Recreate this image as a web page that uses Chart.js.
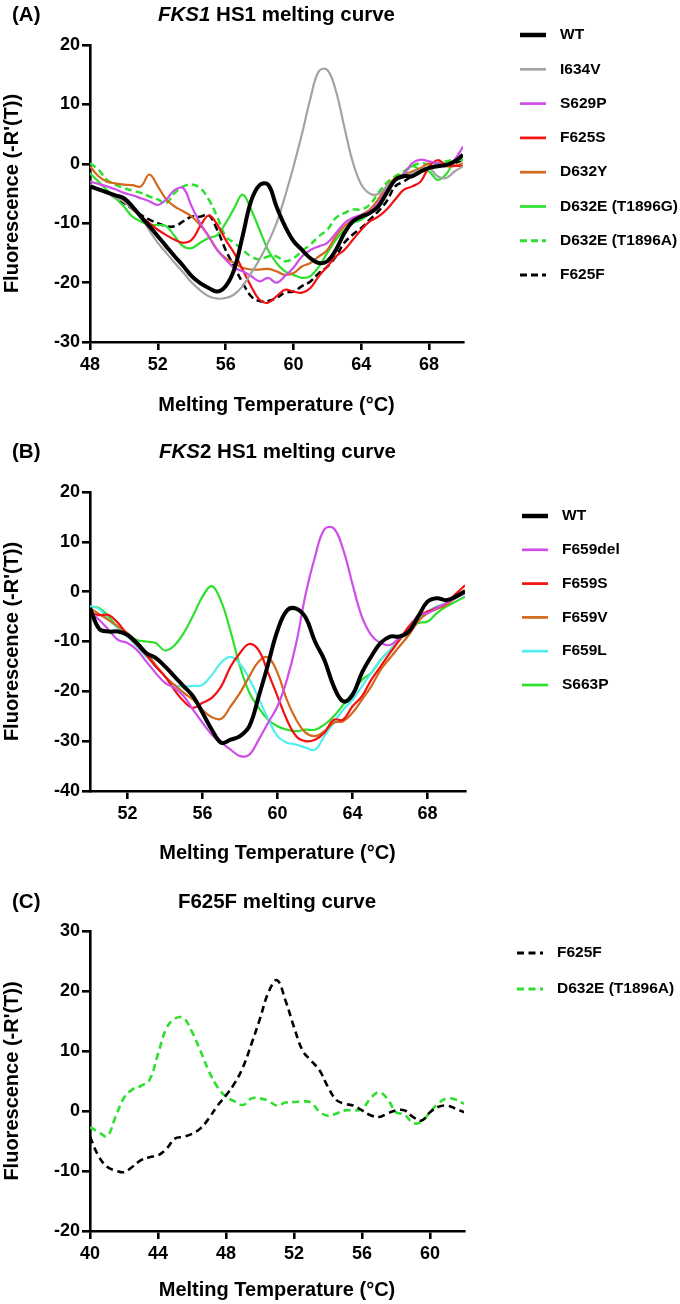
<!DOCTYPE html>
<html>
<head>
<meta charset="utf-8">
<title>HS1 melting curves</title>
<script src="https://cdn.jsdelivr.net/npm/chart.js@4.4.1/dist/chart.umd.min.js"></script>
<style>
  html, body { margin: 0; padding: 0; background: #fff; }
  body { width: 680px; height: 1304px; position: relative; overflow: hidden; }
  canvas { position: absolute; left: 0; }
</style>
</head>
<body>
<canvas id="chartA" width="680" height="430" style="top:0px"></canvas>
<canvas id="chartB" width="680" height="440" style="top:430px"></canvas>
<canvas id="chartC" width="680" height="434" style="top:870px"></canvas>
<script>
const FONT = '"Liberation Sans", Arial, Helvetica, sans-serif';

// ---- Panel A: FKS1 HS1 (temperature in °C, -R'(T))
const tempsA = [48, 48.5, 49, 49.5, 50, 50.5, 51, 51.5, 52, 52.5, 53, 53.5, 54, 54.5, 55, 55.5,
  56, 56.5, 57, 57.5, 58, 58.5, 59, 59.5, 60, 60.5, 61, 61.5, 62, 62.5, 63, 63.5, 64, 64.5,
  65, 65.5, 66, 66.5, 67, 67.5, 68, 68.5, 69, 69.5, 70];
const wtA = [-3.8, -4.3, -4.8, -5.3, -5.8, -7.2, -8.9, -10.5, -12.2, -13.9, -15.6, -17.2, -18.9, -20.1, -20.9, -21.5,
  -20.6, -17.8, -12.2, -6.3, -3.6, -3.5, -7.2, -10.5, -13, -14.5, -15.9, -16.7, -16.4, -14.5, -11.7, -9.7, -8.9, -8.3,
  -7.2, -4.9, -2.7, -2.1, -2.1, -1.3, -0.7, -0.4, -0.2, 0.4, 1.5];
const i634v = [-3.5, -4.2, -4.9, -5.6, -6.4, -7.6, -8.9, -11.2, -13.3, -15, -16.7, -18.3, -20, -21.3, -22.3, -22.7,
  -22.6, -22, -20.6, -18.4, -16.1, -13.3, -10, -5.5, -0.5, 5, 11, 15.6, 15.8, 12.3, 6.2, 0.3, -3.5, -5,
  -5.1, -3.8, -2.7, -2.1, -1.6, -1, -0.7, -2.1, -2.4, -1.3, -0.4];
const s629p = [-3, -3.4, -3.8, -4.3, -4.9, -5.3, -5.8, -6.3, -6.9, -6, -4.4, -4.1, -7.2, -10, -12.2, -14.5,
  -16.1, -17.5, -18.1, -18.9, -19.8, -19.2, -20, -18.9, -17.5, -15.6, -14.5, -13.9, -13.3, -11.7, -10, -9.1, -8.6, -8,
  -6.6, -4.4, -2.7, -1.8, 0.1, 0.7, 0.4, 0.1, -0.2, 0.7, 2.9];
const f625s = [-3.8, -4.3, -4.9, -5.5, -6.3, -7.6, -8.9, -10, -11.1, -12, -12.8, -13.3, -12.8, -10.5, -8.7, -10.2,
  -12.8, -15, -17.8, -20.6, -22.9, -23.4, -22.3, -21.2, -21.5, -21.7, -20.9, -18.9, -17.3, -15.6, -14.5, -12.8, -11.1, -9.7,
  -8.9, -7.7, -6, -4.4, -3.8, -3, -0.5, 0.6, -0.2, -0.3, -0.4];
const d632y = [-0.4, -2.1, -3, -3.3, -3.5, -3.6, -3.8, -1.8, -3.8, -6, -7.2, -8, -8.9, -10.3, -12.2, -14.5,
  -15.9, -16.7, -17.5, -17.8, -17.8, -17.7, -18.1, -18.7, -18.4, -17.3, -16.7, -15.6, -14.5, -12.2, -10.5, -9.4, -8.6, -7.7,
  -6, -3.8, -2.4, -1.8, -1.3, -0.7, 0.1, 0.1, -0.4, -0.4, 0.1];
const d632eG = [-1.6, -3, -4.4, -5.8, -7.2, -8.9, -9.7, -10.3, -10.3, -10.5, -12.2, -13.9, -14.2, -13.3, -12.5, -12,
  -10, -7.5, -5.2, -7.7, -11.1, -14.5, -16.7, -18.1, -18.7, -19.2, -18.9, -17.3, -15, -12.8, -11.1, -10, -9.4, -8.3,
  -7.2, -4.4, -2.7, -1.6, -0.4, -1, -1.3, -2.7, -1.8, 0.4, 0.7];
const d632eA = [0.1, -1, -2.7, -3.5, -4.1, -4.5, -4.9, -5.5, -6, -6.6, -4.9, -3.8, -3.5, -4.1, -6, -8.9,
  -12.2, -13.3, -14.5, -15.6, -16.1, -15.6, -15.6, -16.4, -15.9, -14.7, -13.6, -12.2, -11.1, -9.1, -8.3, -7.7, -7.7, -6.9,
  -4.9, -3.2, -2.1, -1.3, -0.4, 0.1, -0.1, 0.1, 0.4, 0.7, 1];
const f625fA = [-3.8, -4.3, -4.9, -5.7, -6.6, -7.6, -8.6, -9.4, -10, -10.5, -10.5, -9.7, -8.9, -8.9, -8.6, -11.1,
  -14.5, -17.3, -20, -22.3, -23.1, -23.1, -22.6, -21.7, -21.5, -20.6, -19.8, -18.4, -17.3, -15.6, -13.3, -11.9, -10.8, -9.4,
  -8, -6.3, -3.8, -3, -2.1, -1.5, -0.7, -0.4, -0.2, 0.1, 0.7];
const xTicksA = [48, 52, 56, 60, 64, 68];
const yTicksA = [-30, -20, -10, 0, 10, 20];

// ---- Panel B: FKS2 HS1
const tempsB = [50, 50.5, 51, 51.5, 52, 52.5, 53, 53.5, 54, 54.5, 55, 55.5, 56, 56.5, 57, 57.5,
  58, 58.5, 59, 59.5, 60, 60.5, 61, 61.5, 62, 62.5, 63, 63.5, 64, 64.5, 65, 65.5,
  66, 66.5, 67, 67.5, 68, 68.5, 69, 69.5, 70];
const wtB = [-3.3, -7.5, -8, -8, -8.7, -10.3, -12.3, -13.3, -15, -17, -19, -21, -24.3, -27.7, -30.3, -29.7,
  -29, -27, -21, -14.5, -7.8, -3.8, -3.4, -5.2, -10, -13.7, -19, -22, -20.7, -16.3, -13, -10.3,
  -9, -9, -8, -5, -2, -1.3, -1.7, -1, 0.1];
const f659del = [-4, -5.7, -7.7, -9.7, -10.3, -11.7, -14, -16.3, -18.3, -19.3, -21, -23.7, -26.3, -28.7, -30.3, -31.7,
  -33, -32.7, -29.7, -26.3, -23, -17.7, -10.3, -0.5, 7, 12.5, 12.7, 8.5, 1.5, -5, -8.7, -10.3,
  -10.7, -9.3, -8, -4.7, -4.3, -3.3, -2.3, -1.3, -0.3];
const f659s = [-4.3, -4.7, -4.7, -6.3, -8.7, -10.7, -12.7, -15, -17, -19.7, -22, -23.3, -22.3, -21.3, -19, -15,
  -12.3, -10.5, -11.8, -16.3, -21, -25.7, -29, -30, -29.7, -28.3, -25.7, -25.7, -23, -21, -17.7, -15,
  -12.3, -9.7, -7, -5, -4, -3.2, -2.3, -0.5, 1.3];
const f659v = [-3.3, -4.5, -5.7, -7, -8.3, -10.3, -12.3, -14.7, -17, -18.7, -20.3, -21.7, -23.7, -25.2, -25.5, -23,
  -20.3, -17, -14, -13.2, -16.3, -21.7, -25.7, -28.3, -29, -28, -26.3, -26, -24.3, -21.7, -19, -15.7,
  -13.3, -11, -8.7, -6, -4.3, -3.5, -2.7, -1.2, 0.3];
const f659l = [-2.9, -3.5, -5.7, -7.3, -9, -11, -13, -15, -17, -18.7, -19, -18.9, -18.7, -16.7, -14.2, -13.1,
  -14.5, -17.5, -21.5, -25.5, -29, -30.3, -30.7, -31.3, -31.7, -29, -26.3, -23.7, -21.7, -19, -16.3, -13.7,
  -11.7, -9.7, -7.7, -5.7, -4, -3, -2.3, -1.3, -0.3];
const s663p = [-3, -3.3, -5, -7.3, -8.7, -9.7, -10, -10.3, -11.8, -10.8, -8.3, -4.8, -1, 1.1, -2, -8,
  -15, -20.3, -23.3, -25.7, -27, -27.7, -28, -27.7, -27.7, -26.7, -25, -22.7, -20.3, -17.7, -16.3, -13.7,
  -11.7, -9.7, -7.7, -6.3, -6, -4.3, -3, -2, -1];
const xTicksB = [52, 56, 60, 64, 68];
const yTicksB = [-40, -30, -20, -10, 0, 10, 20];

// ---- Panel C: F625F
const tempsC = [40, 40.5, 41, 41.5, 42, 42.5, 43, 43.5, 44, 44.5, 45, 45.5, 46, 46.5, 47, 47.5,
  48, 48.5, 49, 49.5, 50, 50.5, 51, 51.5, 52, 52.5, 53, 53.5, 54, 54.5, 55, 55.5,
  56, 56.5, 57, 57.5, 58, 58.5, 59, 59.5, 60, 60.5, 61, 61.5, 62];
const f625fC = [-4.3, -7.5, -9.3, -9.9, -10.2, -9.3, -8.2, -7.7, -7.4, -6.3, -4.6, -4.3, -3.8, -2.9, -1.2, 0.9,
  2.6, 4.6, 7.3, 11.2, 15.4, 19.8, 21.8, 18.4, 14, 10.1, 8.4, 6.8, 4, 1.8, 1.2, 0.9,
  0.1, -0.7, -1, -0.4, 0.1, 0.1, -1, -1.6, -0.2, 0.7, 0.9, 0.4, -0.2];
const d632eC = [-2.7, -3.5, -4.2, -1, 2.2, 3.6, 4.2, 5.2, 9.5, 13.8, 15.4, 15.5, 13.2, 10, 6.6, 4,
  2.4, 1.6, 1, 2.1, 2.1, 1.7, 0.9, 1.4, 1.5, 1.6, 1.4, -0.1, -0.8, -0.4, 0.1, 0.1,
  0.3, 2.1, 3.1, 2, -0.2, -0.6, -2, -1.8, -0.2, 1.3, 2.1, 1.9, 1.2];
const xTicksC = [40, 44, 48, 52, 56, 60];
const yTicksC = [-20, -10, 0, 10, 20, 30];

const BLACK = '#000000', GRAY = '#a3a3a3', MAGENTA = '#d04ee8', RED = '#f21111',
  ORANGE = '#d2691c', GREEN = '#2ee02e', CYAN = '#52eeee';

// legend drawn to the right of the plot, one row per dataset
const sideLegend = {
  id: 'sideLegend',
  afterDraw(chart, args, opts) {
    const ctx = chart.ctx;
    ctx.save();
    ctx.font = `bold 15.5px ${FONT}`;
    ctx.textBaseline = 'middle';
    ctx.textAlign = 'left';
    chart.data.datasets.forEach((ds, i) => {
      const y = opts.top + i * opts.gap;
      ctx.strokeStyle = ds.borderColor;
      ctx.lineWidth = ds.borderWidth + 0.5;
      ctx.setLineDash(ds.borderDash);
      ctx.beginPath();
      ctx.moveTo(opts.x, y);
      ctx.lineTo(opts.x + 26, y);
      ctx.stroke();
      ctx.setLineDash([]);
      ctx.fillStyle = '#000';
      ctx.fillText(ds.label, opts.x + 40, y);
    });
    ctx.restore();
  }
};

// "(A)" tag plus a title centred over the plot, part of it in italics
const panelTitle = {
  id: 'panelTitle',
  afterDraw(chart, args, opts) {
    const { ctx, chartArea } = chart;
    ctx.save();
    ctx.fillStyle = '#000';
    ctx.textBaseline = 'middle';
    ctx.textAlign = 'left';
    ctx.font = `bold 20.5px ${FONT}`;
    ctx.fillText(opts.tag, 12, opts.y);
    const fonts = opts.parts.map(p => `${p.italic ? 'italic ' : ''}bold 20.5px ${FONT}`);
    const widths = opts.parts.map((p, i) => { ctx.font = fonts[i]; return ctx.measureText(p.text).width; });
    let x = (chartArea.left + chartArea.right) / 2 - widths.reduce((a, b) => a + b, 0) / 2;
    opts.parts.forEach((p, i) => {
      ctx.font = fonts[i];
      ctx.fillText(p.text, x, opts.y);
      x += widths[i];
    });
    ctx.restore();
  }
};

const axisBorder = { display: true, color: '#000', width: 2.6 };
const axisGrid = { display: true, drawOnChartArea: false, drawTicks: true, tickLength: 8, color: '#000', lineWidth: 2.6 };
const tickFont = { family: FONT, size: 18, weight: 'bold' };
const titleFont = { family: FONT, size: 20, weight: 'bold' };

function makeChart(id, p) {
  return new Chart(document.getElementById(id), {
    type: 'line',
    data: {
      datasets: p.series.map(s => ({
        label: s.label,
        data: p.temps.map((t, i) => ({ x: t, y: s.values[i] })),
        borderColor: s.color,
        borderWidth: s.width,
        borderDash: s.dash || [],
        pointRadius: 0,
        tension: 0.4,
        fill: false
      }))
    },
    options: {
      responsive: false,
      animation: false,
      layout: { padding: { top: p.plotTop, right: p.padRight, left: 0, bottom: 0 } },
      scales: {
        x: {
          type: 'linear',
          min: p.xMin,
          max: p.xMax,
          afterBuildTicks: s => { s.ticks = p.xTicks.map(v => ({ value: v })); },
          afterFit: s => { s.height = p.xAxisHeight; },
          border: axisBorder,
          grid: axisGrid,
          ticks: { font: tickFont, color: '#000', padding: 4, maxRotation: 0, autoSkip: false },
          title: { display: true, text: 'Melting Temperature (°C)', font: titleFont, color: '#000',
            padding: { top: 0, bottom: p.xTitlePad } }
        },
        y: {
          type: 'linear',
          min: p.yTicks[0],
          max: p.yTicks[p.yTicks.length - 1],
          afterBuildTicks: s => { s.ticks = p.yTicks.map(v => ({ value: v })); },
          afterFit: s => { s.width = 90; },
          border: axisBorder,
          grid: axisGrid,
          ticks: { font: tickFont, color: '#000', padding: 2 },
          title: { display: true, text: "Fluorescence (-R'(T))", font: titleFont, color: '#000',
            padding: { top: 0, bottom: 0 } }
        }
      },
      plugins: {
        legend: { display: false },
        tooltip: { enabled: false },
        sideLegend: p.legend,
        panelTitle: p.title
      }
    },
    plugins: [sideLegend, panelTitle]
  });
}

makeChart('chartA', {
  temps: tempsA, xMin: 48, xMax: 70, xTicks: xTicksA, yTicks: yTicksA,
  plotTop: 45, padRight: 217, xAxisHeight: 88, xTitlePad: 13,
  legend: { x: 520, top: 35, gap: 34.3 },
  title: { tag: '(A)', y: 15, parts: [{ text: 'FKS1', italic: true }, { text: ' HS1 melting curve', italic: false }] },
  series: [
    { label: 'WT', values: wtA, color: BLACK, width: 4 },
    { label: 'I634V', values: i634v, color: GRAY, width: 2.2 },
    { label: 'S629P', values: s629p, color: MAGENTA, width: 2.2 },
    { label: 'F625S', values: f625s, color: RED, width: 2.2 },
    { label: 'D632Y', values: d632y, color: ORANGE, width: 2.2 },
    { label: 'D632E (T1896G)', values: d632eG, color: GREEN, width: 2.2 },
    { label: 'D632E (T1896A)', values: d632eA, color: GREEN, width: 2.5, dash: [7, 4] },
    { label: 'F625F', values: f625fA, color: BLACK, width: 2.5, dash: [7, 4] }
  ]
});

makeChart('chartB', {
  temps: tempsB, xMin: 50, xMax: 70, xTicks: xTicksB, yTicks: yTicksB,
  plotTop: 62, padRight: 215, xAxisHeight: 79, xTitlePad: 5,
  legend: { x: 522, top: 86, gap: 33.8 },
  title: { tag: '(B)', y: 22, parts: [{ text: 'FKS', italic: true }, { text: '2 HS1 melting curve', italic: false }] },
  series: [
    { label: 'WT', values: wtB, color: BLACK, width: 4 },
    { label: 'F659del', values: f659del, color: MAGENTA, width: 2.2 },
    { label: 'F659S', values: f659s, color: RED, width: 2.2 },
    { label: 'F659V', values: f659v, color: ORANGE, width: 2.2 },
    { label: 'F659L', values: f659l, color: CYAN, width: 2.2 },
    { label: 'S663P', values: s663p, color: GREEN, width: 2.2 }
  ]
});

makeChart('chartC', {
  temps: tempsC, xMin: 40, xMax: 62, xTicks: xTicksC, yTicks: yTicksC,
  plotTop: 61, padRight: 216, xAxisHeight: 73, xTitlePad: 2,
  legend: { x: 517, top: 83, gap: 36 },
  title: { tag: '(C)', y: 32, parts: [{ text: 'F625F melting curve', italic: false }] },
  series: [
    { label: 'F625F', values: f625fC, color: BLACK, width: 2.6, dash: [7, 4.5] },
    { label: 'D632E (T1896A)', values: d632eC, color: GREEN, width: 2.6, dash: [7, 4.5] }
  ]
});
</script>
</body>
</html>
